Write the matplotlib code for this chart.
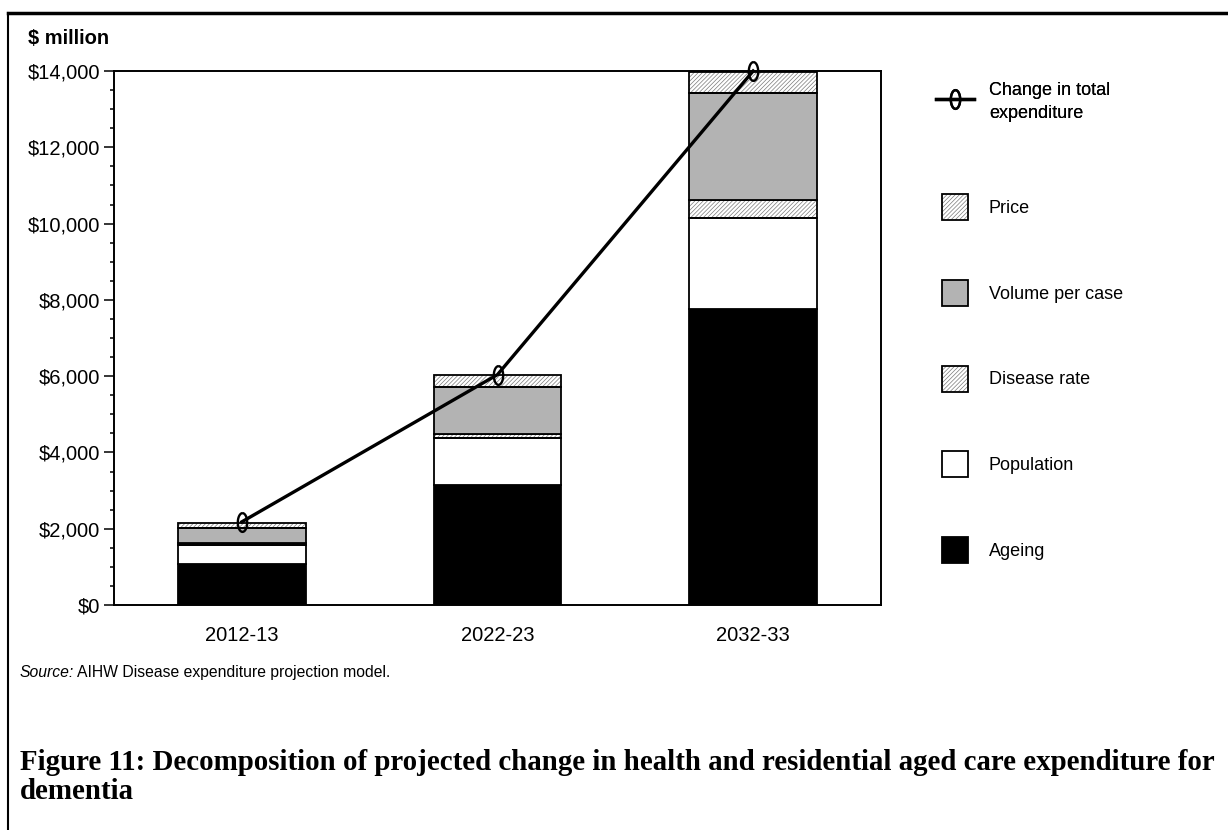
import numpy as np
import matplotlib.pyplot as plt
from matplotlib.patches import Patch, Rectangle
from matplotlib.lines import Line2D
from matplotlib.path import Path
from matplotlib.legend_handler import HandlerPatch, HandlerTuple
from matplotlib.ticker import MultipleLocator, FuncFormatter

# ----------------------------
# Datos ($ millones)
# ----------------------------
years = ['2012-13', '2022-23', '2032-33']
ageing = [1077, 3134, 7750]
population = [500, 1245, 2390]
disease_rate = [50, 113, 473]
volume_per_case = [400, 1227, 2803]
price = [130, 307, 569]
total_change = [2180, 6040, 14000]

plt.rcParams['font.family'] = ['Liberation Sans', 'DejaVu Sans']
plt.rcParams['hatch.linewidth'] = 0.5

W, H = 1228, 830
fig = plt.figure(figsize=(W / 100, H / 100), dpi=100)
ax = fig.add_axes([114 / W, 1 - 605 / H, (881 - 114) / W, (605 - 71) / H])

x = np.arange(len(years))
width = 0.5
grey = '#b3b3b3'
hatch_col = '#7a7a7a'
hatch = '////////'

# ----------------------------
# Barras apiladas
# ----------------------------
series = [
    ('Ageing', ageing, dict(color='black')),
    ('Population', population, dict(color='white')),
    ('Disease rate', disease_rate, dict(color='white', hatch=hatch)),
    ('Volume per case', volume_per_case, dict(color=grey)),
    ('Price', price, dict(color='white', hatch=hatch)),
]

bottom = np.zeros(len(years))
handles = {}
for name, vals, style in series:
    vals = np.array(vals, dtype=float)
    if 'hatch' in style:
        # relleno rayado en gris y contorno negro aparte
        ax.bar(x, vals, width, bottom=bottom, facecolor='white',
               edgecolor=hatch_col, hatch=style['hatch'], linewidth=0, zorder=2)
        ax.bar(x, vals, width, bottom=bottom, fill=False,
               edgecolor='black', linewidth=1.3, zorder=3)
        handles[name] = (Patch(facecolor='white', edgecolor=hatch_col,
                               hatch=style['hatch'], linewidth=0),
                         Patch(fill=False, edgecolor='black', linewidth=1.3))
    else:
        ax.bar(x, vals, width, bottom=bottom, color=style['color'],
               edgecolor='black', linewidth=1.3, zorder=3)
        handles[name] = Patch(facecolor=style['color'], edgecolor='black', linewidth=1.3)
    bottom += vals

# ----------------------------
# Línea del cambio total
# ----------------------------
th = np.linspace(0, 2 * np.pi, 60)
ellipse = Path(np.column_stack([0.5 * np.sin(th), np.cos(th)]))
line, = ax.plot(x, total_change, color='black', linewidth=2.4, marker=ellipse,
                markersize=13.5, markerfacecolor='none', markeredgecolor='black',
                markeredgewidth=1.7, zorder=5, clip_on=False)

# ----------------------------
# Ejes
# ----------------------------
ax.set_xlim(-0.5, 2.5)
ax.set_ylim(0, 14000)
ax.set_xticks(x)
ax.set_xticklabels(years)
ax.yaxis.set_major_locator(MultipleLocator(2000))
ax.yaxis.set_minor_locator(MultipleLocator(500))
ax.yaxis.set_major_formatter(FuncFormatter(lambda v, p: f'${v:,.0f}'))
ax.tick_params(axis='y', which='major', direction='out', length=7, width=1.1,
               pad=3, labelsize=14.5)
ax.tick_params(axis='y', which='minor', direction='out', length=3, width=1.1)
ax.tick_params(axis='x', length=0, pad=15, labelsize=14.5)
for s in ax.spines.values():
    s.set_linewidth(1.4)

fig.text(28 / W, 1 - 38 / H, '$ million', fontsize=14.5, fontweight='bold',
         ha='left', va='center')

# ----------------------------
# Leyenda (línea arriba, cuadros debajo)
# ----------------------------
def square_patch(legend, orig_handle, xdescent, ydescent, width, height, fontsize):
    return Rectangle((-xdescent + (width - height) / 2, -ydescent), height, height)

fs = 13
fpx = fs * 100 / 72
common = dict(loc='upper left', frameon=False, fontsize=fs, borderpad=0,
              borderaxespad=0, handlelength=38 / fpx, handleheight=1.84,
              handletextpad=15 / fpx)

leg1 = fig.legend([line], ['Change in total\nexpenditure'],
                  bbox_to_anchor=(936 / W, 1 - 82 / H), **common)
fig.add_artist(leg1)
for t in leg1.get_texts():
    t.set_linespacing(1.45)

box_names = ['Price', 'Volume per case', 'Disease rate', 'Population', 'Ageing']
fig.legend([handles[n] for n in box_names], box_names,
           bbox_to_anchor=(936 / W, 1 - 194 / H), labelspacing=(85.75 - 26) / fpx,
           handler_map={Patch: HandlerPatch(patch_func=square_patch),
                        tuple: HandlerTuple(ndivide=1, pad=0)},
           **common)

# ----------------------------
# Fuente y título
# ----------------------------
fig.text(20 / W, 1 - 672 / H, 'Source:', fontsize=11.3, style='italic',
         ha='left', va='center')
fig.text(77 / W, 1 - 672 / H, 'AIHW Disease expenditure projection model.',
         fontsize=11.3, ha='left', va='center')

serif = ['Liberation Serif', 'DejaVu Serif']
fig.text(20 / W, 1 - 762 / H,
         'Figure 11: Decomposition of projected change in health and residential aged care expenditure for',
         fontsize=20.8, fontweight='bold', family=serif, ha='left', va='center')
fig.text(20 / W, 1 - 791 / H, 'dementia', fontsize=20.8, fontweight='bold',
         family=serif, ha='left', va='center')

# marco de la figura (superior e izquierdo)
fig.add_artist(Line2D([8 / W, 1], [1 - 13 / H, 1 - 13 / H], color='black', linewidth=2.5))
fig.add_artist(Line2D([8 / W, 8 / W], [0, 1 - 13 / H], color='black', linewidth=1.5))

fig.savefig('out.png', dpi=100)
